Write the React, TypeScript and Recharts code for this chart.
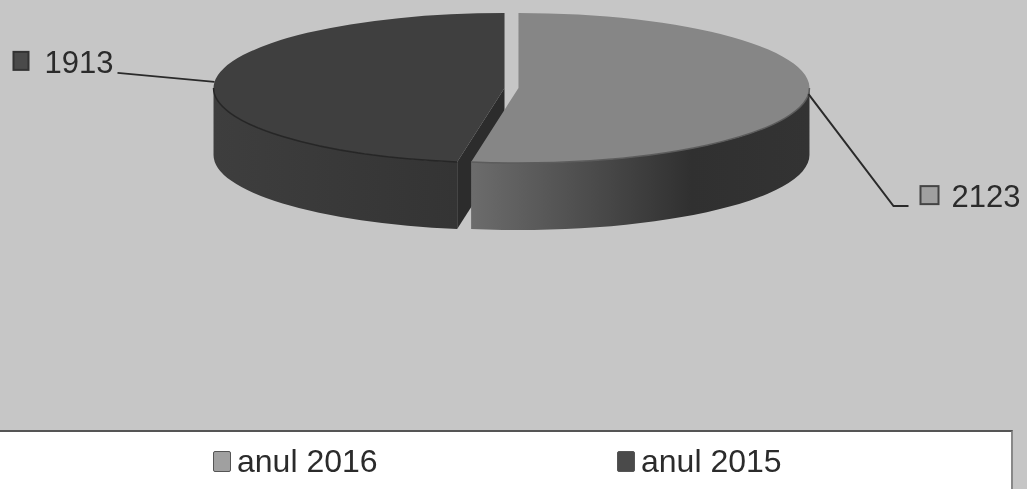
import React from "react";
import { PieChart, Pie, Legend } from "recharts";

const seriesNames = ["anul 2015", "anul 2016"];
const seriesValues = [1913, 2123];
const topFaceColors = ["#3f3f3f", "#868686"];
const markerColors = ["#4a4a4a", "#a0a0a0"];
const legendOrder = ["anul 2016", "anul 2015"];

const table = seriesNames.map((name, i) => ({
  name,
  value: seriesValues[i],
  fill: topFaceColors[i],
  marker: markerColors[i],
}));

const total = seriesValues.reduce((a, b) => a + b, 0);
// The 2016 slice starts at twelve o'clock and runs clockwise; 2015 comes first in draw order.
const START_ANGLE = 90 - (360 * seriesValues[1]) / total;
const END_ANGLE = START_ANGLE - 360;

const W = 1027;
const H = 489;
const CX = 511.5;
const CY = 88;
const R = 291;
const RY_RATIO = 75 / 291;
const DEPTH = 67;
const EXPLODE = 7;
const FONT = "'Liberation Sans', Arial, sans-serif";
const rad = (d: number) => (d * Math.PI) / 180;

function SliceShape(props: any) {
  const { cx, cy, outerRadius, startAngle, endAngle, fill, payload } = props;
  let t1 = 90 - startAngle;
  let t2 = 90 - endAngle;
  if (t1 > t2) [t1, t2] = [t2, t1];
  while (t1 >= 360) {
    t1 -= 360;
    t2 -= 360;
  }
  const mid = (t1 + t2) / 2;
  const ox = cx + EXPLODE * Math.sin(rad(mid));
  const rx = outerRadius;
  const ry = outerRadius * RY_RATIO;
  const pt = (t: number, dy = 0) => ({
    x: ox + rx * Math.sin(rad(t)),
    y: cy - ry * Math.cos(rad(t)) + dy,
  });
  const a = pt(t1);
  const b = pt(t2);
  const large = t2 - t1 > 180 ? 1 : 0;
  const top = `M${ox},${cy} L${a.x},${a.y} A${rx},${ry} 0 ${large} 1 ${b.x},${b.y} Z`;

  const f1 = Math.max(t1, 90);
  const f2 = Math.min(t2, 270);
  const p1 = pt(f1);
  const p2 = pt(f2);
  const p2d = pt(f2, DEPTH);
  const p1d = pt(f1, DEPTH);
  const side = `M${p1.x},${p1.y} A${rx},${ry} 0 0 1 ${p2.x},${p2.y} L${p2d.x},${p2d.y} A${rx},${ry} 0 0 0 ${p1d.x},${p1d.y} Z`;
  const isLight = payload.name === seriesNames[1];
  const rim = pt(t1);
  const wall = `M${ox},${cy} L${rim.x},${rim.y} L${rim.x},${rim.y + DEPTH} L${ox},${cy + DEPTH} Z`;

  return (
    <g>
      {!isLight && <path d={wall} fill="#2c2c2c" />}
      <path d={side} fill={isLight ? "url(#sideLight)" : "url(#sideDark)"} />
      <path d={top} fill={fill} />
      <path
        d={`M${p1.x},${p1.y} A${rx},${ry} 0 0 1 ${p2.x},${p2.y}`}
        fill="none"
        stroke={isLight ? "#5c5c5c" : "#262626"}
        strokeWidth={1.5}
      />
    </g>
  );
}

function renderLabel(props: any) {
  const { cx, cy, midAngle, outerRadius, value, payload } = props;
  const t = 90 - midAngle;
  const right = Math.sin(rad(t)) > 0;
  const ax = cx + (EXPLODE + outerRadius) * Math.sin(rad(t));
  const ay = cy - outerRadius * RY_RATIO * Math.cos(rad(t));
  const fontSize = 31;
  if (right) {
    const ex = ax + 85;
    const ey = ay + 112;
    return (
      <g>
        <polyline points={`${ax},${ay} ${ex},${ey} ${ex + 15},${ey}`} fill="none" stroke="#2a2a2a" strokeWidth={2} />
        <rect x={ex + 27} y={ey - 20} width={18} height={18} fill={payload.marker} stroke="#444" strokeWidth={2} />
        <text x={ex + 58} y={ey + 1} fontFamily={FONT} fontSize={fontSize} fill="#2b2b2b">
          {value}
        </text>
      </g>
    );
  }
  const ex = ax - 97;
  const ey = ay - 9;
  return (
    <g>
      <polyline points={`${ax},${ay} ${ex},${ey}`} fill="none" stroke="#2a2a2a" strokeWidth={2} />
      <rect x={ex - 104} y={ey - 21} width={15} height={18} fill={payload.marker} stroke="#333" strokeWidth={2} />
      <text x={ex - 73} y={ey} fontFamily={FONT} fontSize={fontSize} fill="#2b2b2b">
        {value}
      </text>
    </g>
  );
}

function LegendBox() {
  const slots = [213, 617];
  return (
    <div style={{ position: "relative", width: "100%", height: "100%" }}>
      {legendOrder.map((name, i) => {
        const row = table.find((d) => d.name === name)!;
        return (
          <div key={name} style={{ position: "absolute", left: slots[i], top: 12, display: "flex", alignItems: "center" }}>
            <span
              style={{
                display: "inline-block",
                width: 16,
                height: 19,
                background: row.marker,
                border: "1.5px solid #555",
                borderRadius: 2,
                boxSizing: "content-box",
                marginRight: 6,
              }}
            />
            <span style={{ fontFamily: FONT, fontSize: 32, lineHeight: "34px", color: "#2b2b2b" }}>{name}</span>
          </div>
        );
      })}
    </div>
  );
}

export default function App() {
  return (
    <div
      style={{
        position: "fixed",
        left: 0,
        top: 0,
        width: W,
        height: H,
        background: "#c6c6c6",
        overflow: "hidden",
        filter: "blur(0.6px)",
      }}
    >
      <PieChart width={W} height={H} margin={{ top: 0, right: 0, bottom: 0, left: 0 }}>
        <defs>
          <linearGradient id="sideLight" x1="0" y1="0" x2="1" y2="0">
            <stop offset="0" stopColor="#6c6c6c" />
            <stop offset="0.35" stopColor="#4c4c4c" />
            <stop offset="0.65" stopColor="#303030" />
            <stop offset="1" stopColor="#333333" />
          </linearGradient>
          <linearGradient id="sideDark" x1="0" y1="0" x2="1" y2="0">
            <stop offset="0" stopColor="#3e3e3e" />
            <stop offset="1" stopColor="#343434" />
          </linearGradient>
        </defs>
        <Pie
          data={table}
          dataKey="value"
          nameKey="name"
          cx={CX}
          cy={CY}
          innerRadius={0}
          outerRadius={R}
          startAngle={START_ANGLE}
          endAngle={END_ANGLE}
          stroke="none"
          shape={SliceShape}
          label={renderLabel}
          labelLine={false}
          isAnimationActive={false}
        />
        <Legend
          content={<LegendBox />}
          wrapperStyle={{
            position: "absolute",
            left: 0,
            top: 430,
            bottom: "auto",
            width: 1013,
            height: 59,
            background: "#ffffff",
            borderTop: "2px solid #555",
            borderRight: "2px solid #888",
            boxSizing: "border-box",
          }}
        />
      </PieChart>
    </div>
  );
}
